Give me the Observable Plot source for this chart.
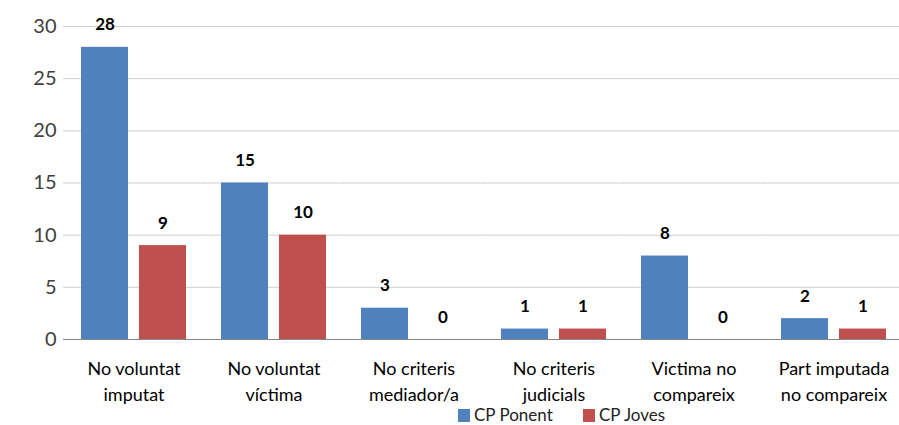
<!DOCTYPE html>
<html>
<head>
<meta charset="utf-8">
<script src="https://cdn.jsdelivr.net/npm/d3@7"></script>
<script src="https://cdn.jsdelivr.net/npm/@observablehq/plot@0.6"></script>
<style>
  html, body { margin: 0; padding: 0; background: #fff; overflow: hidden; }
  #chart svg { display: block; }
  #legend { position: relative; height: 20px; font-family: Lato, sans-serif; font-size: 17px; color: #222; }
  .item { position: absolute; top: 2px; display: flex; align-items: flex-start; line-height: 16px; }
  .sw { width: 12px; height: 13px; margin-right: 4px; margin-top: 2px; }
</style>
</head>
<body>
<div id="chart"></div>
<div id="legend"></div>
<script>
const categories = ["No voluntat\nimputat", "No voluntat\nvíctima", "No criteris\nmediador/a", "No criteris\njudicials", "Victima no\ncompareix", "Part imputada\nno compareix"];
const series = ["CP Ponent", "CP Joves"];
const ponent = [28, 15, 3, 1, 8, 2];
const joves = [9, 10, 0, 1, 0, 1];
const yTicks = [0, 5, 10, 15, 20, 25, 30];
const colors = ["#4F81BD", "#C0504D"];

const data = categories.flatMap((c, i) => [
  {cat: c, series: series[0], value: ponent[i]},
  {cat: c, series: series[1], value: joves[i]}
]);

const chart = Plot.plot({
  width: 899,
  height: 405,
  marginTop: 26,
  marginBottom: 66,
  marginLeft: 62,
  marginRight: -6,
  style: {fontFamily: "Lato, sans-serif", background: "white", overflow: "hidden"},
  fx: {domain: categories, paddingInner: 0.25, paddingOuter: 0.125, label: null},
  x: {domain: series, paddingInner: 0.19, paddingOuter: 0, axis: null},
  y: {domain: [0, 30], label: null},
  color: {domain: series, range: colors},
  marks: [
    Plot.ruleY(yTicks.filter(t => t > 0), {stroke: "#d0d0d0", strokeWidth: 1, insetLeft: -18, insetRight: -18}),
    Plot.barY(data, {fx: "cat", x: "series", y: "value", fill: "series"}),
    Plot.ruleY([0], {stroke: "#868686", strokeWidth: 1, insetLeft: -18, insetRight: -18}),
    Plot.text(data, {fx: "cat", x: "series", y: "value", text: d => String(d.value), lineAnchor: "bottom", dy: -17, fontWeight: "bold", fontSize: 17, fill: "black"}),
    Plot.axisY({ticks: yTicks, tickSize: 0, tickPadding: 25, fontSize: 20, fill: "#404040", label: null}),
    Plot.axisFx({anchor: "bottom", tickSize: 0, tickPadding: 18, fontSize: 18, lineAnchor: "top", lineHeight: 1.4, fill: "black", label: null})
  ]
});
document.getElementById("chart").appendChild(chart);

const legend = document.getElementById("legend");
const lefts = [458, 583];
series.forEach((s, i) => {
  const item = document.createElement("div");
  item.className = "item";
  item.style.left = lefts[i] + "px";
  const sw = document.createElement("span");
  sw.className = "sw";
  sw.style.background = colors[i];
  const t = document.createElement("span");
  t.textContent = s;
  item.appendChild(sw);
  item.appendChild(t);
  legend.appendChild(item);
});
</script>
</body>
</html>
